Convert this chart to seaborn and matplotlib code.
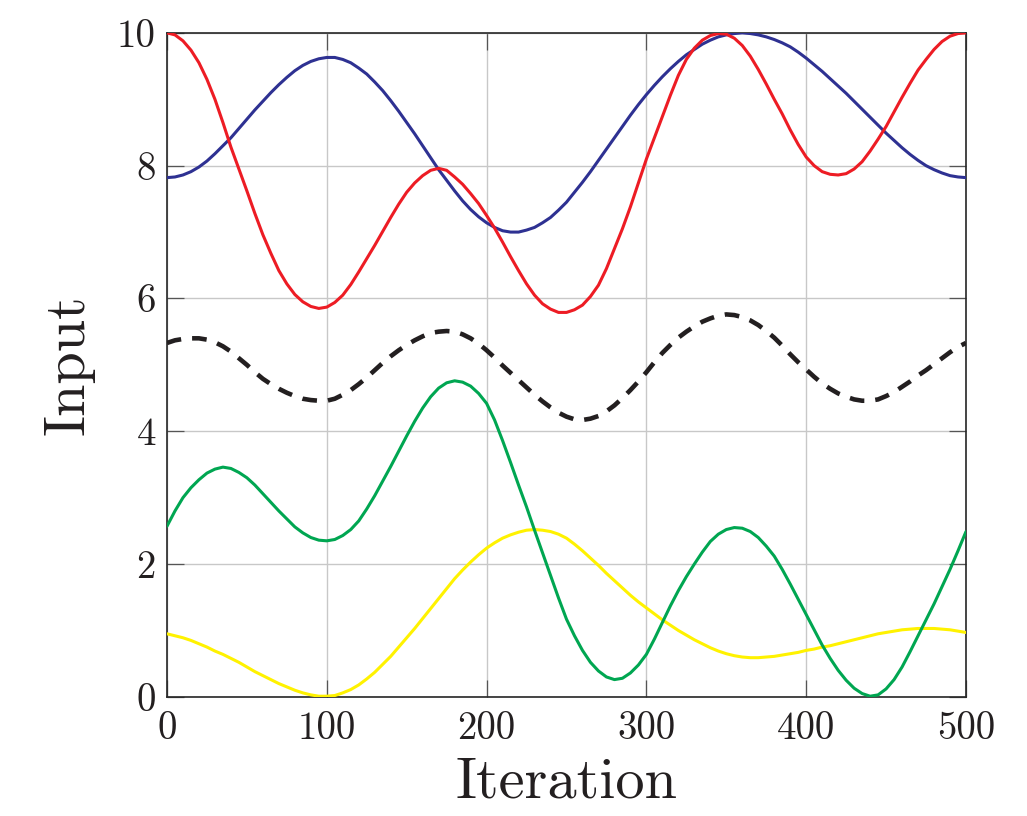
import numpy as np
import pandas as pd
import matplotlib
matplotlib.use("Agg")
import matplotlib.pyplot as plt
import seaborn as sns

iteration = list(range(0, 501, 5))

blue = [7.82, 7.83, 7.86, 7.91, 7.98, 8.07, 8.18, 8.30, 8.42, 8.56,
        8.70, 8.84, 8.97, 9.10, 9.22, 9.33, 9.43, 9.51, 9.57, 9.61,
        9.63, 9.63, 9.60, 9.55, 9.47, 9.38, 9.26, 9.13, 8.98, 8.82,
        8.65, 8.48, 8.30, 8.12, 7.94, 7.78, 7.62, 7.47, 7.34, 7.23,
        7.14, 7.07, 7.02, 7.00, 7.00, 7.03, 7.07, 7.14, 7.22, 7.33,
        7.45, 7.60, 7.75, 7.91, 8.08, 8.25, 8.42, 8.59, 8.76, 8.92,
        9.07, 9.21, 9.34, 9.46, 9.57, 9.67, 9.75, 9.83, 9.89, 9.94,
        9.97, 9.99, 10.0, 9.99, 9.97, 9.94, 9.90, 9.85, 9.79, 9.71,
        9.62, 9.52, 9.42, 9.31, 9.20, 9.09, 8.97, 8.85, 8.73, 8.61,
        8.49, 8.38, 8.27, 8.17, 8.08, 8.00, 7.94, 7.89, 7.85, 7.83,
        7.82]

red = [10.0, 9.97, 9.88, 9.74, 9.55, 9.30, 9.00, 8.65, 8.28, 7.95,
       7.62, 7.28, 6.96, 6.68, 6.42, 6.22, 6.06, 5.95, 5.88, 5.85,
       5.87, 5.94, 6.05, 6.21, 6.40, 6.60, 6.80, 7.01, 7.22, 7.42,
       7.60, 7.74, 7.85, 7.93, 7.96, 7.93, 7.83, 7.72, 7.58, 7.43,
       7.25, 7.06, 6.85, 6.63, 6.42, 6.22, 6.05, 5.92, 5.84, 5.79,
       5.79, 5.83, 5.90, 6.03, 6.20, 6.45, 6.75, 7.05, 7.38, 7.74,
       8.10, 8.42, 8.74, 9.06, 9.36, 9.60, 9.77, 9.89, 9.96, 9.99,
       9.98, 9.92, 9.81, 9.65, 9.45, 9.23, 9.00, 8.78, 8.54, 8.32,
       8.13, 8.00, 7.91, 7.87, 7.86, 7.88, 7.95, 8.06, 8.22, 8.40,
       8.59, 8.81, 9.03, 9.24, 9.44, 9.60, 9.75, 9.87, 9.95, 9.99,
       10.0]

black = [5.33, 5.37, 5.39, 5.40, 5.40, 5.38, 5.34, 5.28, 5.20, 5.10,
         5.00, 4.89, 4.79, 4.71, 4.64, 4.58, 4.53, 4.49, 4.47, 4.46,
         4.46, 4.49, 4.55, 4.62, 4.71, 4.81, 4.92, 5.03, 5.13, 5.22,
         5.30, 5.37, 5.43, 5.48, 5.50, 5.51, 5.50, 5.46, 5.40, 5.32,
         5.22, 5.11, 4.99, 4.88, 4.77, 4.66, 4.55, 4.45, 4.36, 4.28,
         4.22, 4.18, 4.17, 4.19, 4.23, 4.30, 4.39, 4.50, 4.62, 4.75,
         4.89, 5.04, 5.18, 5.30, 5.41, 5.50, 5.58, 5.65, 5.70, 5.74,
         5.76, 5.75, 5.72, 5.67, 5.60, 5.51, 5.41, 5.29, 5.16, 5.04,
         4.93, 4.82, 4.72, 4.64, 4.57, 4.52, 4.48, 4.46, 4.46, 4.48,
         4.53, 4.59, 4.67, 4.75, 4.84, 4.92, 5.01, 5.10, 5.19, 5.27,
         5.33]

green = [2.57, 2.80, 3.00, 3.15, 3.27, 3.37, 3.43, 3.46, 3.44, 3.38,
         3.30, 3.19, 3.06, 2.93, 2.80, 2.68, 2.56, 2.47, 2.40, 2.36,
         2.35, 2.37, 2.43, 2.52, 2.65, 2.83, 3.03, 3.25, 3.47, 3.70,
         3.93, 4.15, 4.35, 4.52, 4.65, 4.73, 4.76, 4.74, 4.68, 4.57,
         4.42, 4.17, 3.86, 3.53, 3.19, 2.86, 2.51, 2.17, 1.83, 1.49,
         1.17, 0.92, 0.70, 0.52, 0.39, 0.30, 0.26, 0.28, 0.36, 0.48,
         0.64, 0.87, 1.12, 1.37, 1.60, 1.81, 2.00, 2.18, 2.34, 2.45,
         2.52, 2.55, 2.54, 2.49, 2.40, 2.27, 2.12, 1.92, 1.70, 1.47,
         1.24, 1.01, 0.78, 0.58, 0.40, 0.25, 0.13, 0.05, 0.01, 0.03,
         0.12, 0.26, 0.45, 0.68, 0.92, 1.16, 1.40, 1.66, 1.92, 2.20,
         2.49]

yellow = [0.95, 0.92, 0.89, 0.85, 0.80, 0.75, 0.69, 0.64, 0.58, 0.52,
          0.45, 0.38, 0.32, 0.26, 0.20, 0.15, 0.10, 0.06, 0.03, 0.01,
          0.01, 0.02, 0.06, 0.11, 0.18, 0.27, 0.37, 0.49, 0.61, 0.75,
          0.89, 1.03, 1.18, 1.33, 1.48, 1.63, 1.78, 1.91, 2.03, 2.14,
          2.24, 2.32, 2.39, 2.44, 2.48, 2.51, 2.52, 2.51, 2.49, 2.45,
          2.39, 2.30, 2.20, 2.09, 1.98, 1.86, 1.75, 1.64, 1.53, 1.43,
          1.34, 1.25, 1.16, 1.08, 1.00, 0.93, 0.86, 0.80, 0.74, 0.69,
          0.65, 0.62, 0.60, 0.59, 0.59, 0.60, 0.61, 0.63, 0.65, 0.67,
          0.70, 0.72, 0.75, 0.77, 0.80, 0.83, 0.86, 0.89, 0.92, 0.95,
          0.97, 0.99, 1.01, 1.02, 1.03, 1.03, 1.03, 1.02, 1.01, 0.99,
          0.97]

x_ticks = [0, 100, 200, 300, 400, 500]
y_ticks = [0, 2, 4, 6, 8, 10]
x_label = "Iteration"
y_label = "Input"

sns.set_theme(style="whitegrid")
plt.rcParams["font.family"] = ["cmr10", "DejaVu Serif"]
plt.rcParams["axes.formatter.use_mathtext"] = True
plt.rcParams["mathtext.fontset"] = "cm"

fig = plt.figure(figsize=(10.27, 8.16), dpi=100)
ax = fig.add_axes([0.1626, 0.146, 0.7780, 0.8137])

df = pd.DataFrame({"Iteration": iteration, "blue": blue, "red": red,
                   "black": black, "green": green, "yellow": yellow})

series = [("blue", "#2E3192", "-", 2.2),
          ("red", "#ED1C24", "-", 2.2),
          ("yellow", "#FFF200", "-", 2.2),
          ("green", "#00A651", "-", 2.2),
          ("black", "#231F20", (0, (3.2, 2.4)), 3.3)]
for name, col, ls, lw in series:
    sns.lineplot(data=df, x="Iteration", y=name, ax=ax, color=col,
                 linestyle=ls, linewidth=lw, zorder=3)

ax.set_xlim(0, 500)
ax.set_ylim(0, 10)
ax.set_xticks(x_ticks)
ax.set_yticks(y_ticks)
ax.set_xticklabels([str(v) for v in x_ticks], fontsize=28)
ax.set_yticklabels([str(v) for v in y_ticks], fontsize=28)
ax.set_xlabel(x_label, fontsize=42, labelpad=8)
ax.set_ylabel(y_label, fontsize=42, labelpad=16)

ax.grid(True, color="#c8c8c8", linewidth=1.0)
ax.set_axisbelow(True)
for s in ax.spines.values():
    s.set_color("#262626")
    s.set_linewidth(1.2)
    s.set_visible(True)
ax.tick_params(axis="both", which="both", direction="in", length=12,
               width=0.9, color="#555555", top=True, right=True,
               bottom=True, left=True, labelcolor="#231F20")
ax.tick_params(axis="x", pad=10)
ax.tick_params(axis="y", pad=8)
ax.xaxis.label.set_color("#231F20")
ax.yaxis.label.set_color("#231F20")
ax.set_facecolor("white")

fig.savefig("out.png", dpi=100, facecolor="white")
